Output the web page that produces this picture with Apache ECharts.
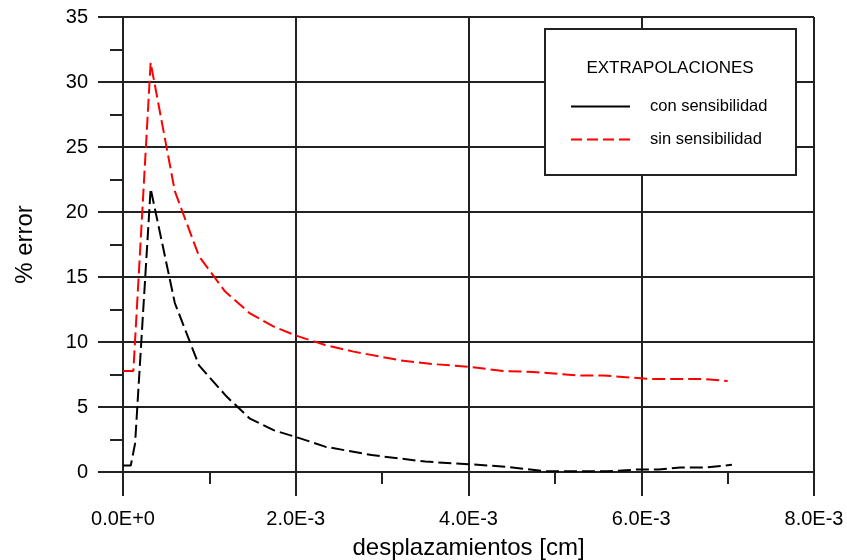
<!DOCTYPE html>
<html>
<head>
<meta charset="utf-8">
<script src="https://cdn.jsdelivr.net/npm/echarts@6/dist/echarts.min.js"></script>
<style>
html,body{margin:0;padding:0;background:#fff;}
#chart{width:847px;height:560px;}
</style>
</head>
<body>
<div id="chart"></div>
<script>
// ---- data ----
var conX = [0, 0.00009, 0.00014, 0.00032, 0.0006, 0.00088, 0.0012, 0.00147, 0.00175, 0.002, 0.00234, 0.00288, 0.0035, 0.004, 0.00444, 0.0049, 0.0056, 0.00598, 0.0062, 0.00645, 0.00676, 0.00705];
var conY = [0.5, 0.5, 2.2, 21.8, 13.0, 8.2, 5.8, 4.1, 3.2, 2.7, 1.95, 1.3, 0.8, 0.6, 0.4, 0.05, 0.05, 0.2, 0.2, 0.35, 0.35, 0.55];
var sinX = [0, 0.00012, 0.00032, 0.0006, 0.00088, 0.00118, 0.00147, 0.00174, 0.002, 0.00234, 0.00267, 0.0032, 0.00359, 0.004, 0.0044, 0.00475, 0.00525, 0.00556, 0.0061, 0.00672, 0.007];
var sinY = [7.77, 7.77, 31.5, 21.6, 16.6, 13.9, 12.2, 11.2, 10.5, 9.77, 9.26, 8.6, 8.3, 8.1, 7.77, 7.7, 7.43, 7.43, 7.15, 7.15, 7.0];
var seriesNames = ['con sensibilidad', 'sin sensibilidad'];
var legendTitle = 'EXTRAPOLACIONES';
var xTickLabels = ['0.0E+0', '2.0E-3', '4.0E-3', '6.0E-3', '8.0E-3'];
var xTitle = 'desplazamientos [cm]';
var yTitle = '% error';

function pairs(xs, ys) { return xs.map(function (x, i) { return [x, ys[i]]; }); }

var FONT = "'Liberation Sans', Arial, sans-serif";
var AX = '#222';
var DASH = [13, 5];

var chart = echarts.init(document.getElementById('chart'), null, {renderer: 'canvas'});
chart.setOption({
  animation: false,
  backgroundColor: '#fff',
  textStyle: {fontFamily: FONT, color: '#000'},
  grid: {left: 123, right: 33, top: 17, bottom: 88, containLabel: false, outerBoundsMode: 'none'},
  xAxis: {
    type: 'value', min: 0, max: 0.008, interval: 0.002,
    name: xTitle, nameLocation: 'middle', nameGap: 64,
    nameTextStyle: {fontSize: 24, fontFamily: FONT, color: '#000'},
    axisLine: {show: true, onZero: false, lineStyle: {color: AX, width: 2}},
    axisTick: {show: true, length: 24, lineStyle: {color: AX, width: 2}},
    minorTick: {show: true, splitNumber: 2, length: 12, lineStyle: {color: AX, width: 2}},
    splitLine: {show: true, lineStyle: {color: AX, width: 2}},
    axisLabel: {
      margin: 37, fontSize: 20, fontFamily: FONT, color: '#000',
      formatter: function (v) { return xTickLabels[Math.round(v / 0.002)]; }
    }
  },
  yAxis: {
    type: 'value', min: 0, max: 35, interval: 5,
    name: yTitle, nameLocation: 'middle', nameGap: 86, nameRotate: 90,
    nameTextStyle: {fontSize: 24, fontFamily: FONT, color: '#000'},
    axisLine: {show: true, onZero: false, lineStyle: {color: AX, width: 2}},
    axisTick: {show: true, length: 25, lineStyle: {color: AX, width: 2}},
    minorTick: {show: true, splitNumber: 2, length: 13, lineStyle: {color: AX, width: 2}},
    splitLine: {show: true, lineStyle: {color: AX, width: 2}},
    axisLabel: {margin: 35, fontSize: 20, fontFamily: FONT, color: '#000'}
  },
  legend: {
    orient: 'vertical', left: 565, top: 93, z: 60,
    itemWidth: 59, itemHeight: 16, itemGap: 16,
    formatter: function (name) { return '{t|' + name + '}'; },
    textStyle: {
      fontSize: 16.5, fontFamily: FONT, color: '#000',
      rich: {t: {fontSize: 16.5, fontFamily: FONT, color: '#000', padding: [0, 0, 0, 15]}}
    },
    data: [
      {name: seriesNames[0], itemStyle: {opacity: 0}, lineStyle: {type: 'solid', width: 2, color: '#000'}},
      {name: seriesNames[1], itemStyle: {opacity: 0}, lineStyle: {type: [11, 5], width: 2, color: '#ff0000'}}
    ]
  },
  graphic: [
    {type: 'rect', z: 50, shape: {x: 545, y: 29, width: 251, height: 146},
     style: {fill: '#fff', stroke: AX, lineWidth: 2}},
    {type: 'text', z: 51, x: 670, y: 68,
     style: {text: legendTitle, fontSize: 17, fontFamily: FONT, fill: '#000', align: 'center', verticalAlign: 'middle'}}
  ],
  series: [
    {name: seriesNames[0], type: 'line', data: pairs(conX, conY), showSymbol: false, symbol: 'none',
     lineStyle: {color: '#000', width: 2, type: DASH}, itemStyle: {color: '#000'}, z: 5},
    {name: seriesNames[1], type: 'line', data: pairs(sinX, sinY), showSymbol: false, symbol: 'none',
     lineStyle: {color: '#ff0000', width: 2, type: DASH}, itemStyle: {color: '#ff0000'}, z: 5}
  ]
});
</script>
</body>
</html>
